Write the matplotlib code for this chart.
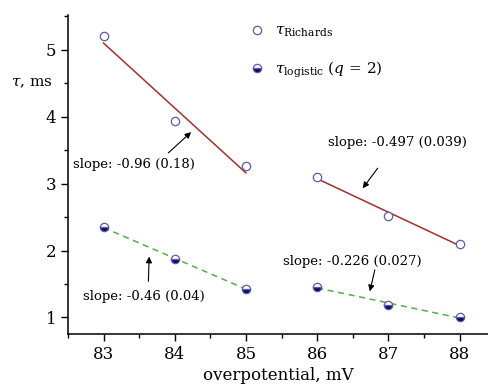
import numpy as np
import matplotlib
matplotlib.use("Agg")
import matplotlib.pyplot as plt
from matplotlib.ticker import MultipleLocator

# data
volt_a = [83, 84, 85]
volt_b = [86, 87, 88]
tau_rich_a = [5.20, 3.93, 3.26]
tau_rich_b = [3.10, 2.52, 2.10]
tau_log_a = [2.35, 1.87, 1.43]
tau_log_b = [1.46, 1.18, 1.01]

slope_labels = ["slope: -0.96 (0.18)", "slope: -0.497 (0.039)",
                "slope: -0.46 (0.04)", "slope: -0.226 (0.027)"]

plt.rcParams["font.family"] = ["DejaVu Serif"]
plt.rcParams["mathtext.fontset"] = "dejavuserif"

RED = "#a0302e"
GREEN = "#4faf48"
EDGE = "#5c5ca8"
NAVY = "#0a0a66"

fig = plt.figure(figsize=(4.89, 3.85), dpi=100)
ax = fig.add_axes([0.139, 0.132, 0.859, 0.829])

def fit_line(x, y):
    p = np.polyfit(x, y, 1)
    xx = np.array([x[0], x[-1]])
    return xx, np.polyval(p, xx)

for xs, ys in [(volt_a, tau_rich_a), (volt_b, tau_rich_b)]:
    xx, yy = fit_line(xs, ys)
    ax.plot(xx, yy, "-", color=RED, lw=1.1)
for xs, ys in [(volt_a, tau_log_a), (volt_b, tau_log_b)]:
    xx, yy = fit_line(xs, ys)
    ax.plot(xx, yy, "--", color=GREEN, lw=1.1, dashes=(4, 3))

h1, = ax.plot(volt_a + volt_b, tau_rich_a + tau_rich_b, "o", ms=6,
              mfc="white", mec=EDGE, mew=0.9, ls="none")
h2, = ax.plot(volt_a + volt_b, tau_log_a + tau_log_b, "o", ms=6,
              fillstyle="bottom", mfc=NAVY, mfcalt="white", mec=EDGE,
              mew=0.9, ls="none")

# slope annotations: text position, arrow tail, arrow head
notes = [((83.43, 3.28), (83.91, 3.46), (84.23, 3.77)),
         ((87.13, 3.62), (86.85, 3.23), (86.64, 2.93)),
         ((83.56, 1.31), (83.63, 1.54), (83.64, 1.91)),
         ((86.49, 1.83), (86.81, 1.71), (86.74, 1.39))]
for lab, (tpos, tail, head) in zip(slope_labels, notes):
    ax.text(tpos[0], tpos[1], lab, ha="center", va="center", fontsize=9.5)
    ax.annotate("", xy=head, xytext=tail,
                arrowprops=dict(arrowstyle="-|>", color="black", lw=0.8,
                                mutation_scale=9, shrinkA=0, shrinkB=0))

leg = ax.legend([h1, h2],
                [r"$\tau_{\mathrm{Richards}}$", r"$\tau_{\mathrm{logistic}}$ ($q$ = 2)"],
                loc="upper left", bbox_to_anchor=(0.395, 1.015), frameon=False,
                fontsize=11, handletextpad=0.6, labelspacing=1.3,
                handlelength=1.2)

ax.set_xlim(82.5, 88.4)
ax.set_ylim(0.75, 5.52)
ax.xaxis.set_major_locator(MultipleLocator(1))
ax.xaxis.set_minor_locator(MultipleLocator(0.5))
ax.yaxis.set_major_locator(MultipleLocator(1))
ax.yaxis.set_minor_locator(MultipleLocator(0.5))
ax.tick_params(which="major", direction="out", length=5, width=1, labelsize=12)
ax.tick_params(which="minor", direction="out", length=3, width=1)
for s in ["top", "right"]:
    ax.spines[s].set_visible(False)
for s in ["left", "bottom"]:
    ax.spines[s].set_linewidth(1.1)

ax.set_xlabel("overpotential, mV", fontsize=12, labelpad=3)
fig.text(0.065, 0.785, r"$\tau$, ms", ha="center", va="center", fontsize=11)

fig.savefig("out.png", dpi=100)
